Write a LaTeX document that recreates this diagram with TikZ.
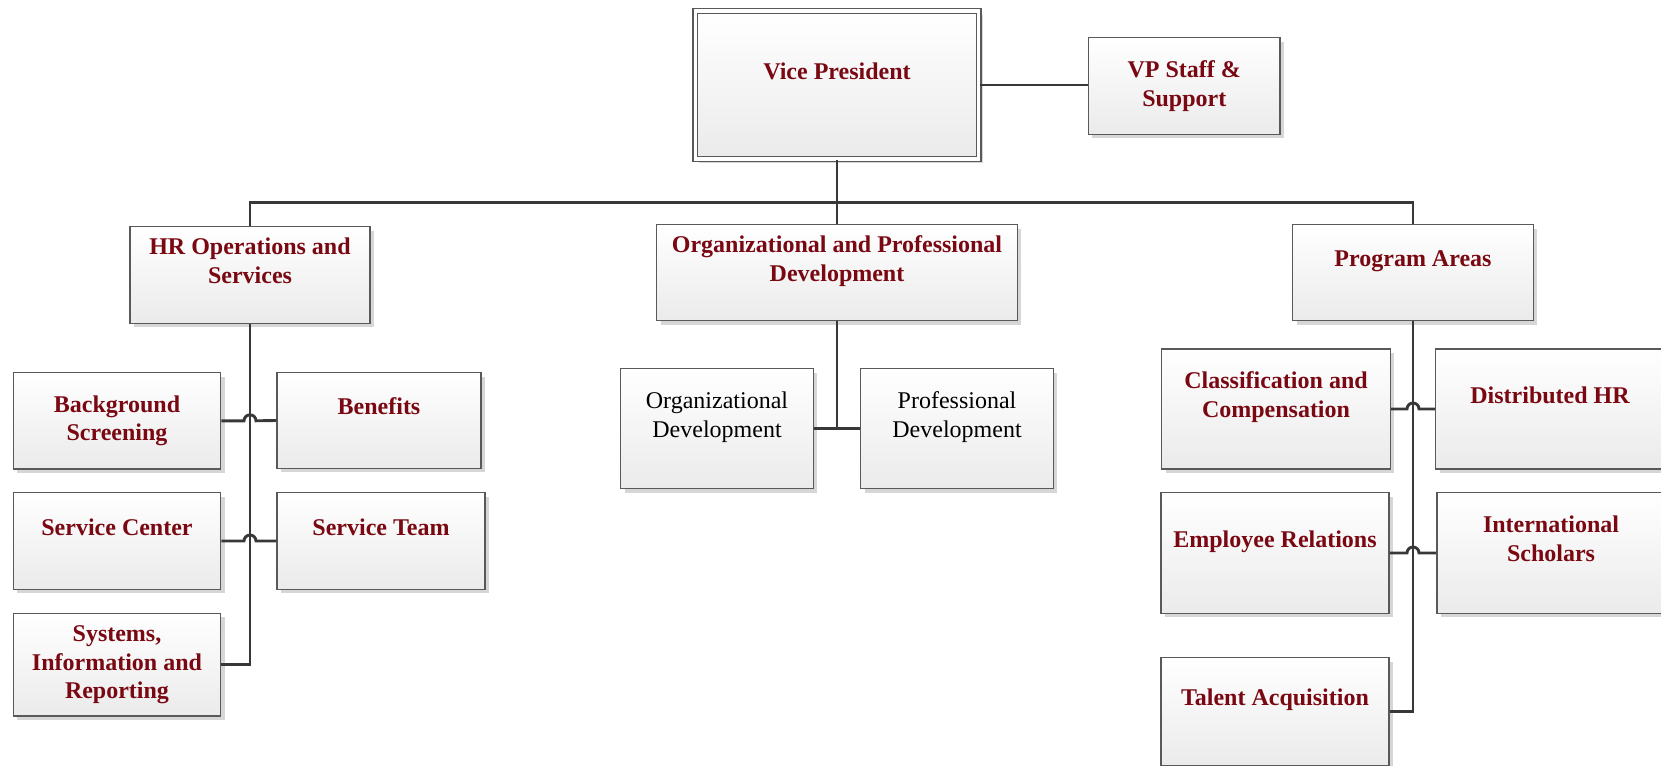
\documentclass[tikz,border=0pt]{standalone}
\usepackage{fontspec}
\setmainfont{Liberation Serif}
\usetikzlibrary{calc,shadows}
\definecolor{hrred}{RGB}{122,8,18}
\tikzset{
	orgbox/.style={draw=black!65, line width=0.75pt, top color=white, bottom color=black!8,
		drop shadow={shadow xshift=2pt, shadow yshift=-2pt, fill=black!16, opacity=1},
		align=center, inner sep=2pt, text=hrred, font=\fontsize{12pt}{14.25pt}\selectfont\bfseries},
	plainbox/.style={orgbox, text=black, font=\fontsize{12pt}{14.25pt}\selectfont},
	boxsize/.style 2 args={minimum width=#1, minimum height=#2},
	conn/.style={draw=black!78, line width=1.45pt},
}
\def\hopline[#1](#2)(#3)(#4){\draw[#1] (#2.east) -- ($(#2.east -| #4)+(-6,0)$) arc[start angle=180, end angle=0, radius=3pt] -- (#3.west);}

\begin{document}
\begin{tikzpicture}[x=0.5pt, y=0.5pt]
		%%%%% START %%%%%
		\useasboundingbox (0, 0) rectangle (1661, -766);
		
		\node[orgbox, boxsize={141.8pt}{74pt}, double=white, double distance=1.6pt] (vp) at (837, -85) {Vice President\\\mbox{}};
		\node[orgbox, boxsize={95.9pt}{48.3pt}] (staff) at (1184.3, -86) {VP Staff \&\\Support};
		
		\node[orgbox, boxsize={120pt}{48.3pt}] (hr) at (250, -275) {HR Operations and\\Services\\\mbox{}};
		\node[orgbox, boxsize={180.3pt}{48pt}] (opd) at (837, -272.7) {Organizational and Professional\\Development\\\mbox{}};
		\node[orgbox, boxsize={120.3pt}{48pt}] (prog) at (1413, -272.7) {Program Areas\\\mbox{}};
		
		\node[orgbox, boxsize={103.7pt}{48.2pt}] (bg) at (117, -420.8) {Background\\Screening};
		\node[orgbox, boxsize={102pt}{47.8pt}] (ben) at (379, -420.5) {Benefits\\\mbox{}};
		\node[orgbox, boxsize={103.7pt}{48.3pt}] (sc) at (117, -541) {Service Center\\\mbox{}};
		\node[orgbox, boxsize={104pt}{48.3pt}] (st) at (381, -541) {Service Team\\\mbox{}};
		\node[orgbox, boxsize={103.7pt}{51.4pt}] (sys) at (117, -664.7) {Systems,\\Information and\\Reporting};
		
		\node[plainbox, boxsize={96.3pt}{60pt}] (orgdev) at (717, -428.7) {Organizational\\Development\\\mbox{}};
		\node[plainbox, boxsize={96.3pt}{60pt}] (profdev) at (957, -428.7) {Professional\\Development\\\mbox{}};
		
		\node[orgbox, boxsize={114.3pt}{60pt}] (cls) at (1276, -409) {Classification and\\Compensation\\\mbox{}};
		\node[orgbox, boxsize={114.3pt}{60pt}] (dhr) at (1550, -409) {Distributed HR\\\mbox{}};
		\node[orgbox, boxsize={114.2pt}{60.3pt}] (er) at (1275, -553) {Employee Relations\\\mbox{}};
		\node[orgbox, boxsize={114.2pt}{60.3pt}] (is) at (1551, -553) {International\\Scholars\\\mbox{}};
		\node[orgbox, boxsize={114.2pt}{54pt}] (ta) at (1275, -711.7) {Talent Acquisition\\\mbox{}};
		
		% top level
		\coordinate (bus) at (837, -202.5);
		\draw[conn] (vp.east) -- (vp.east -| staff.west);
		\draw[conn] (vp.south) -- (opd.north);
		\draw[conn] (hr.north) |- (bus) -| (prog.north);
		
		% HR operations
		\draw[conn] (hr.south) |- (sys.east);
		\hopline[conn](bg)(ben)(hr.south)
		\hopline[conn](sc)(st)(hr.south)
		
		% development
		\draw[conn] (opd.south) -- (opd.south |- orgdev.east);
		\draw[conn] (orgdev.east) -- (profdev.west);
		
		% program areas
		\draw[conn] (prog.south) |- (ta.east);
		\hopline[conn](cls)(dhr)(prog.south)
		\hopline[conn](er)(is)(prog.south)
		%%%%% END %%%%%
	\end{tikzpicture}
\end{document}
